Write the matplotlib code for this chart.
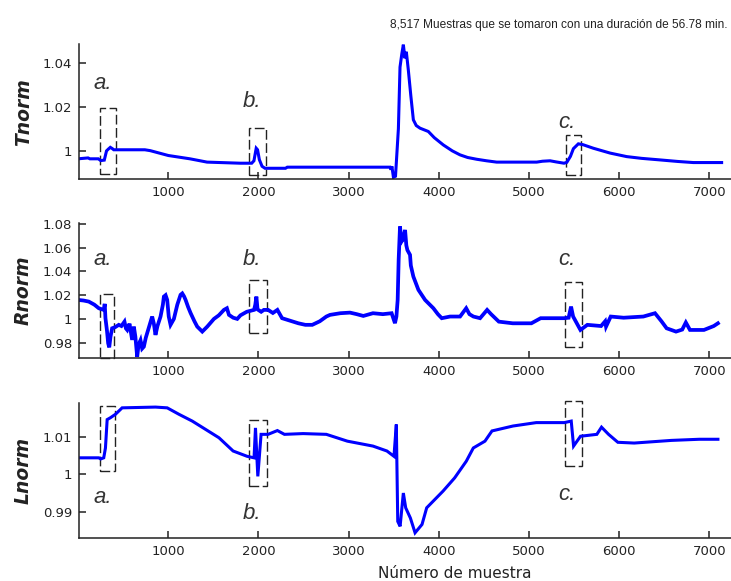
import matplotlib
matplotlib.use("Agg")
import matplotlib.pyplot as plt
from matplotlib.patches import Rectangle

# ---- normalised temperature ----
t_x = [0, 110, 130, 224, 250, 290, 315, 335, 357, 380, 395, 740, 800, 1000, 1240, 1430,
       1800, 1925, 1950, 1975, 1990, 2010, 2040, 2073, 2300, 2320, 3459, 3470, 3480, 3497,
       3520, 3552, 3570, 3590, 3607, 3625, 3640, 3662, 3690, 3718, 3750, 3792, 3884, 3950,
       4050, 4150, 4235, 4320, 4420, 4530, 4642, 5086, 5150, 5234, 5300, 5389, 5420, 5460,
       5493, 5548, 5600, 5714, 5900, 6084, 6250, 6453, 6650, 6823, 7137]
t_y = [0.9964, 0.9968, 0.9964, 0.9964, 0.9956, 0.9958, 1.0000, 1.0008, 1.0016, 1.0010,
       1.0005, 1.0005, 1.0001, 0.9979, 0.9964, 0.9949, 0.9944, 0.9944, 0.9955, 1.0012,
       1.0005, 0.9960, 0.9930, 0.9921, 0.9921, 0.9926, 0.9926, 0.9915, 0.9930, 0.9880,
       0.9885, 1.0100, 1.0380, 1.0440, 1.0482, 1.0420, 1.0450, 1.0368, 1.0250, 1.0141,
       1.0115, 1.0103, 1.0088, 1.0060, 1.0027, 1.0000, 0.9982, 0.9970, 0.9962, 0.9955,
       0.9949, 0.9949, 0.9953, 0.9955, 0.9950, 0.9944, 0.9948, 0.9975, 1.0010, 1.0032,
       1.0028, 1.0012, 0.9990, 0.9974, 0.9966, 0.9959, 0.9952, 0.9947, 0.9947]

# ---- normalised resistance ----
r_x = [0, 60, 118, 180, 229, 284, 295, 303, 320, 333, 345, 359, 377, 410, 451, 480, 514,
       530, 544, 570, 599, 618, 635, 655, 670, 692, 710, 729, 750, 766, 790, 821, 840, 858,
       880, 914, 940, 951, 970, 988, 1005, 1025, 1062, 1100, 1136, 1155, 1175, 1192, 1220,
       1247, 1290, 1321, 1377, 1432, 1506, 1560, 1617, 1650, 1673, 1720, 1765, 1800, 1870,
       1951, 1965, 1977, 1990, 2030, 2060, 2107, 2160, 2210, 2262, 2330, 2443, 2520, 2597,
       2680, 2753, 2794, 2908, 3015, 3090, 3163, 3270, 3380, 3477, 3514, 3530, 3544, 3555,
       3570, 3585, 3600, 3626, 3640, 3652, 3681, 3690, 3718, 3774, 3848, 3940, 3990, 4033,
       4125, 4236, 4304, 4340, 4384, 4458, 4536, 4580, 4666, 4821, 5027, 5130, 5389, 5440,
       5467, 5490, 5519, 5571, 5648, 5800, 5845, 5855, 5907, 6050, 6269, 6398, 6470, 6527,
       6631, 6700, 6740, 6786, 6941, 7050, 7096]
r_y = [1.016, 1.0155, 1.0146, 1.012, 1.009, 1.0076, 1.0127, 1.0006, 0.990, 0.9795, 0.976,
       0.985, 0.9921, 0.993, 0.995, 0.994, 0.9977, 0.992, 0.9907, 0.996, 0.9823, 0.9935,
       0.985, 0.968, 0.978, 0.982, 0.975, 0.9766, 0.984, 0.988, 0.994, 1.002, 0.996, 0.9865,
       0.994, 1.002, 1.012, 1.0188, 1.020, 1.016, 1.002, 0.995, 1.000, 1.012, 1.0203, 1.0215,
       1.019, 1.016, 1.010, 1.005, 0.998, 0.9935, 0.9893, 0.9935, 1.000, 1.003, 1.0076,
       1.009, 1.0034, 1.001, 1.000, 1.003, 1.006, 1.0076, 1.012, 1.0188, 1.008, 1.006,
       1.0076, 1.0076, 1.005, 1.0076, 1.0006, 0.999, 0.9963, 0.995, 0.995, 0.998, 1.002,
       1.0034, 1.0048, 1.0053, 1.004, 1.0025, 1.0048, 1.004, 1.0048, 0.9964, 1.002, 1.016,
       1.050, 1.0779, 1.065, 1.0667, 1.075, 1.062, 1.058, 1.054, 1.045, 1.0357, 1.0245,
       1.016, 1.009, 1.004, 1.0006, 1.002, 1.002, 1.009, 1.004, 1.002, 1.0006, 1.0076,
       1.004, 0.9977, 0.9963, 0.9963, 1.0006, 1.0006, 1.001, 1.0104, 1.002, 0.998, 0.9907,
       0.995, 0.994, 0.998, 0.9935, 1.002, 1.001, 1.002, 1.0048, 0.998, 0.9921, 0.9893,
       0.991, 0.997, 0.9907, 0.9907, 0.994, 0.9963]

# ---- normalised luminosity ----
l_x = [0, 229, 250, 284, 303, 322, 359, 414, 488, 858, 988, 1118, 1266, 1414, 1562, 1719,
       1874, 1951, 1967, 1993, 2029, 2107, 2210, 2288, 2495, 2753, 2986, 3270, 3425, 3503,
       3529, 3545, 3571, 3607, 3633, 3685, 3737, 3814, 3866, 4047, 4176, 4305, 4383, 4512,
       4590, 4823, 5081, 5392, 5469, 5495, 5572, 5753, 5805, 5883, 5986, 6167, 6580, 6890,
       7096]
l_y = [1.0044, 1.0044, 1.0041, 1.0044, 1.0070, 1.0145, 1.0150, 1.0159, 1.0176, 1.0178,
       1.0176, 1.0159, 1.0141, 1.0119, 1.0097, 1.0062, 1.0048, 1.0044, 1.0123, 0.9995,
       1.0106, 1.0106, 1.0116, 1.0106, 1.0108, 1.0106, 1.0088, 1.0075, 1.0062, 1.0048,
       1.0132, 0.9876, 0.9863, 0.9951, 0.9912, 0.9885, 0.9846, 0.9868, 0.9912, 0.9956,
       0.9991, 1.0035, 1.0070, 1.0088, 1.0115, 1.0128, 1.0137, 1.0137, 1.0141, 1.0075,
       1.0101, 1.0106, 1.0125, 1.0106, 1.0085, 1.0083, 1.0090, 1.0093, 1.0093]

x_ticks = [1000, 2000, 3000, 4000, 5000, 6000, 7000]
t_ticks = [1, 1.02, 1.04]
t_ticklabels = ["1", "1.02", "1.04"]
r_ticks = [0.98, 1, 1.02, 1.04, 1.06, 1.08]
r_ticklabels = ["0.98", "1", "1.02", "1.04", "1.06", "1.08"]
l_ticks = [0.99, 1, 1.01]
l_ticklabels = ["0.99", "1", "1.01"]

event_names = ["a.", "b.", "c."]
# dashed windows around each event: (x0, x1, y0, y1) per panel
t_boxes = [(247, 425, 0.9895, 1.0195), (1899, 2081, 0.9891, 1.0106), (5408, 5577, 0.9891, 1.0073)]
r_boxes = [(247, 399, 0.9673, 1.0211), (1900, 2090, 0.988, 1.0329), (5405, 5590, 0.9766, 1.0315)]
l_boxes = [(247, 413, 1.0009, 1.0181), (1900, 2090, 0.9969, 1.0143), (5405, 5590, 1.0022, 1.0194)]
t_label_pos = [(276, 1.0308), (1930, 1.0222), (5417, 1.0131)]
r_label_pos = [(276, 1.0498), (1930, 1.0498), (5417, 1.0498)]
l_label_pos = [(276, 0.9940), (1930, 0.9898), (5417, 0.9947)]

W, H = 731, 581
fig = plt.figure(figsize=(W / 100, H / 100), dpi=100)

def px_axes(top, bottom, left=79.3, right=731):
    return fig.add_axes([left / W, 1 - bottom / H, (right - left) / W, (bottom - top) / H])

panels = [
    (px_axes(44, 179.3), t_x, t_y, 2.2, (0.9871, 1.0485), t_ticks, t_ticklabels, t_boxes, t_label_pos, "Tnorm"),
    (px_axes(222.7, 357.7), r_x, r_y, 2.7, (0.9673, 1.0811), r_ticks, r_ticklabels, r_boxes, r_label_pos, "Rnorm"),
    (px_axes(403.3, 537.7), l_x, l_y, 2.2, (0.9833, 1.0188), l_ticks, l_ticklabels, l_boxes, l_label_pos, "Lnorm"),
]

for ax, xs, ys, lw, ylim, yt, ytl, boxes, lpos, name in panels:
    ax.plot(xs, ys, color="#0000ff", lw=lw, solid_joinstyle="miter")
    ax.set_xlim(13, 7241)
    ax.set_ylim(*ylim)
    ax.set_xticks(x_ticks)
    ax.set_xticklabels([str(v) for v in x_ticks])
    ax.set_yticks(yt)
    ax.set_yticklabels(ytl)
    for s in ("top", "right"):
        ax.spines[s].set_visible(False)
    for s in ("left", "bottom"):
        ax.spines[s].set_linewidth(1.1)
        ax.spines[s].set_color("#222222")
    ax.tick_params(direction="in", length=5, width=1.1, labelsize=9.5, pad=5, colors="#222222")
    for (x0, x1, y0, y1) in boxes:
        ax.add_patch(Rectangle((x0, y0), x1 - x0, y1 - y0, fill=False, ec="#222222",
                               lw=1.0, ls=(0, (7, 2.5)), clip_on=False))
    for nm, (lx, ly) in zip(event_names, lpos):
        ax.text(lx, ly, nm, ha="center", va="center", fontsize=16, style="italic",
                family="Liberation Sans", color="#333333")
    yc = (ax.get_position().y0 + ax.get_position().y1) / 2
    fig.text(23.5 / W, yc, name, rotation=90, ha="center", va="center", fontsize=13.5,
             fontweight="bold", style="italic", color="#222222")

fig.text(728 / W, 1 - 25 / H, "8,517 Muestras que se tomaron con una duración de 56.78 min.",
         ha="right", va="center", fontsize=8.6, family="Liberation Sans", color="#222222")
fig.text(455 / W, 1 - 574 / H, "Número de muestra", ha="center", va="center",
         fontsize=11, color="#222222")

fig.savefig("out.png", dpi=100, facecolor="white")
